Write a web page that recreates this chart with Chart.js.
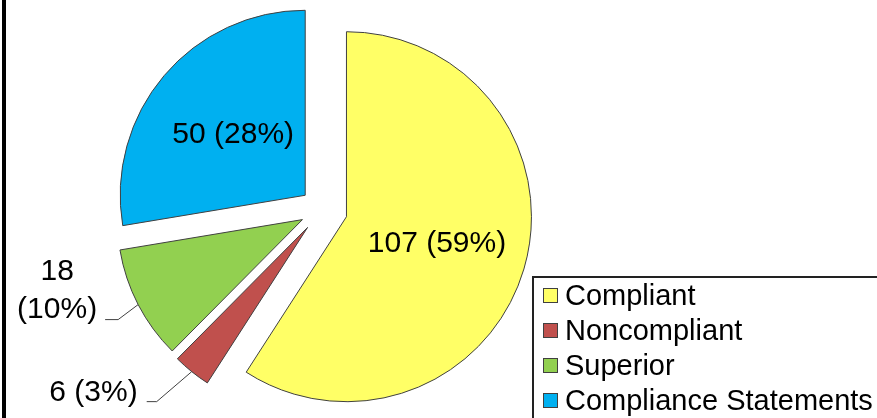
<!DOCTYPE html>
<html>
<head>
<meta charset="utf-8">
<script src="https://cdn.jsdelivr.net/npm/chart.js@4/dist/chart.umd.min.js"></script>
<style>
  body { margin: 0; background: #fff; overflow: hidden; }
  #wrap { position: relative; width: 877px; height: 418px; overflow: hidden; }
  #frame { position: absolute; left: 2px; top: 0; width: 4px; height: 418px; background: #000; }
  #legend {
    position: absolute; left: 532px; top: 276px; width: 380px; height: 180px;
    border: 2px solid #222; box-sizing: border-box;
    font-family: "Liberation Sans", Arial, sans-serif; font-size: 29px; color: #000;
  }
  .item { position: absolute; left: 9px; height: 35px; line-height: 35px; white-space: nowrap; }
  .sw { display: inline-block; width: 13px; height: 13px; border: 1px solid #404040;
        vertical-align: middle; margin-right: 7px; position: relative; top: -2px; }
</style>
</head>
<body>
<div id="wrap">
  <canvas id="pieChart"></canvas>
  <div id="frame"></div>
  <div id="legend"></div>
</div>
<script>
const categories = ["Compliant", "Noncompliant", "Superior", "Compliance Statements"];
const counts = [107, 6, 18, 50];
const colors = ["#FFFF66", "#C0504D", "#92D050", "#00B0F0"];

const total = counts.reduce((a, b) => a + b, 0);
const labelFor = (v) => v + " (" + Math.round(v / total * 100) + "%)";

// legend (html, boxed, bottom right)
const legendEl = document.getElementById("legend");
categories.forEach((c, i) => {
  const row = document.createElement("div");
  row.className = "item";
  row.style.top = (0 + i * 35) + "px";
  row.innerHTML = '<span class="sw" style="background:' + colors[i] + '"></span>' + c;
  legendEl.appendChild(row);
});

// pull every slice away from the centre along its middle angle
const explodePx = [25.5, 23, 22, 22];
const explode = {
  id: "explode",
  afterDatasetsUpdate(chart) {
    chart.getDatasetMeta(0).data.forEach((arc, i) => {
      const mid = (arc.startAngle + arc.endAngle) / 2;
      arc.x += Math.cos(mid) * explodePx[i];
      arc.y += Math.sin(mid) * explodePx[i];
    });
  },
};

// value labels: two inside, two outside with leader lines
const valueLabels = {
  id: "valueLabels",
  afterDatasetsDraw(chart) {
    const ctx = chart.ctx;
    ctx.save();
    ctx.font = '30px "Liberation Sans", Arial, sans-serif';
    ctx.fillStyle = "#000";
    ctx.strokeStyle = "#404040";
    ctx.lineWidth = 1;
    ctx.textBaseline = "middle";
    chart.getDatasetMeta(0).data.forEach((arc, i) => {
      const mid = (arc.startAngle + arc.endAngle) / 2;
      const cx = Math.cos(mid), sy = Math.sin(mid);
      const v = counts[i];
      if (i === 0 || i === 3) {
        const d = arc.outerRadius * 0.51;
        ctx.textAlign = "center";
        ctx.fillText(labelFor(v), arc.x + cx * d, arc.y + sy * d);
        return;
      }
      const px = arc.x + cx * arc.outerRadius;
      const py = arc.y + sy * arc.outerRadius;
      if (i === 2) {
        const ex = px - 20, ey = py + 15;
        ctx.beginPath();
        ctx.moveTo(px, py); ctx.lineTo(ex, ey); ctx.lineTo(ex - 13, ey);
        ctx.stroke();
        ctx.textAlign = "center";
        ctx.fillText(String(v), ex - 61, ey - 48);
        ctx.fillText("(" + Math.round(v / total * 100) + "%)", ex - 61, ey - 10);
      } else {
        const ex = px - 35, ey = py + 30;
        ctx.beginPath();
        ctx.moveTo(px, py); ctx.lineTo(ex, ey); ctx.lineTo(ex - 10, ey);
        ctx.stroke();
        ctx.textAlign = "right";
        ctx.fillText(labelFor(v), ex - 19, ey - 9);
      }
    });
    ctx.restore();
  },
};

const ctx = document.getElementById("pieChart").getContext("2d");
const pieChart = new Chart(ctx, {
  type: "pie",
  data: {
    labels: categories,
    datasets: [
      {
        data: counts,
        backgroundColor: colors,
        borderColor: "#404040",
        borderWidth: 1,
      },
    ],
  },
  options: {
    responsive: true,
    maintainAspectRatio: false,
    animation: false,
    events: [],
    layout: { padding: { left: 136.5, top: 24, right: 369.5, bottom: 23 } },
    plugins: {
      legend: { display: false },
      tooltip: { enabled: false },
    },
  },
  plugins: [explode, valueLabels],
});
</script>
</body>
</html>
